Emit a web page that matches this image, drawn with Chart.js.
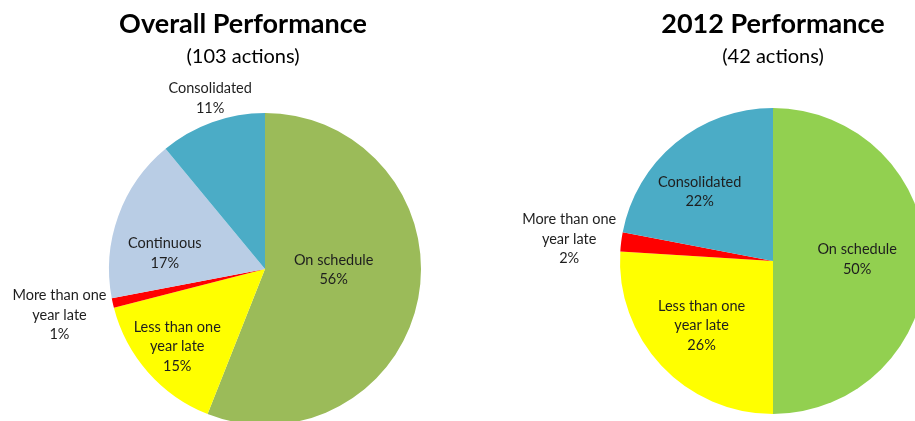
<!DOCTYPE html>
<html>
<head>
<meta charset="utf-8">
<script src="https://cdn.jsdelivr.net/npm/chart.js@4.4.1/dist/chart.umd.min.js"></script>
<style>
  html, body { margin: 0; padding: 0; background: #fff; width: 915px; height: 421px; overflow: hidden; }
  canvas { position: absolute; top: 0; }
  #overall { left: 0; }
  #year2012 { left: 500px; }
</style>
</head>
<body>
<canvas id="overall" width="530" height="440"></canvas>
<canvas id="year2012" width="440" height="440"></canvas>
<script>
// OVERALL PERFORMANCE (103 actions)
var overallLabels = [["On schedule"], ["Less than one", "year late"], ["More than one", "year late"], ["Continuous"], ["Consolidated"]];
var overallValues = [56, 15, 1, 17, 11];
var overallColors = ["#9BBB59", "#FFFF00", "#FF0000", "#B9CDE5", "#4BACC6"];

// 2012 PERFORMANCE (42 actions)
var labels2012 = [["On schedule"], ["Less than one", "year late"], ["More than one", "year late"], ["Consolidated"]];
var values2012 = [50, 26, 2, 22];
var colors2012 = ["#92D050", "#FFFF00", "#FF0000", "#4BACC6"];

// label placement: [radius factor, angle shift in degrees]
var overallPlace = [[0.44, -10], [0.75, 0], [1.35, 0], [0.65, -11], [1.15, 2]];
var place2012 = [[0.55, -1], [0.63, 1], [1.34, -1], [0.66, -7]];

var headerPlugin = {
  id: "header",
  afterDraw: function(chart, args, opts) {
    var ctx = chart.ctx;
    ctx.save();
    ctx.fillStyle = "#000";
    ctx.textAlign = "center";
    ctx.textBaseline = "middle";
    ctx.font = "bold 27px Lato";
    ctx.fillText(opts.title, opts.x, 24);
    ctx.font = "20px Lato";
    ctx.fillText(opts.sub, opts.x, 57);
    ctx.restore();
  }
};

var sliceLabels = {
  id: "sliceLabels",
  afterDatasetsDraw: function(chart, args, opts) {
    var ctx = chart.ctx;
    var meta = chart.getDatasetMeta(0);
    var values = chart.data.datasets[0].data;
    ctx.save();
    ctx.fillStyle = "#1e1e1e";
    ctx.textAlign = "center";
    ctx.textBaseline = "middle";
    ctx.font = "14.5px Lato";
    meta.data.forEach(function(arc, i) {
      var p = arc.getProps(["x", "y", "startAngle", "endAngle", "outerRadius"], true);
      var a = (p.startAngle + p.endAngle) / 2 + opts.place[i][1] * Math.PI / 180;
      var d = p.outerRadius * opts.place[i][0];
      var x = p.x + Math.cos(a) * d;
      var y = p.y + Math.sin(a) * d;
      var lines = chart.data.labels[i].concat([values[i] + "%"]);
      var lh = 19.5;
      var y0 = y - (lines.length - 1) * lh / 2;
      lines.forEach(function(t, k) { ctx.fillText(t, x, y0 + k * lh); });
    });
    ctx.restore();
  }
};

new Chart("overall", {
  type: "pie",
  data: {
    labels: overallLabels,
    datasets: [{
      data: overallValues,
      backgroundColor: overallColors,
      borderWidth: 0
    }]
  },
  options: {
    responsive: false,
    animation: false,
    layout: { padding: { left: 109, right: 109, top: 113, bottom: 15 } },
    plugins: {
      legend: { display: false },
      tooltip: { enabled: false },
      header: { title: "Overall Performance", sub: "(103 actions)", x: 243 },
      sliceLabels: { place: overallPlace }
    }
  },
  plugins: [headerPlugin, sliceLabels]
});

new Chart("year2012", {
  type: "pie",
  data: {
    labels: labels2012,
    datasets: [{
      data: values2012,
      backgroundColor: colors2012,
      borderWidth: 0
    }]
  },
  options: {
    responsive: false,
    animation: false,
    layout: { padding: { left: 120, right: 14, top: 108, bottom: 26 } },
    plugins: {
      legend: { display: false },
      tooltip: { enabled: false },
      header: { title: "2012 Performance", sub: "(42 actions)", x: 273 },
      sliceLabels: { place: place2012 }
    }
  },
  plugins: [headerPlugin, sliceLabels]
});
</script>
</body>
</html>
